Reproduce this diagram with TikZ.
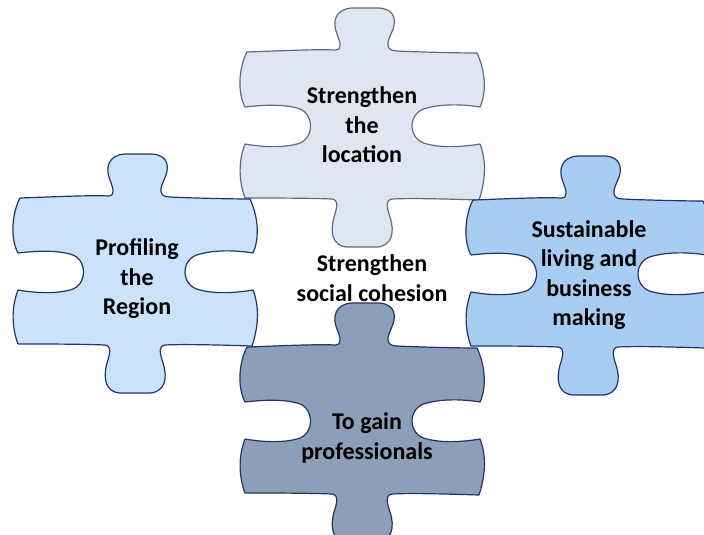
\documentclass[tikz,border=0pt]{standalone}
\usepackage{fontspec}
\setmainfont{Carlito}
\definecolor{topfill}{HTML}{DFE6F1}
\definecolor{leftfill}{HTML}{CBE3FA}
\definecolor{rightfill}{HTML}{A8CDF2}
\definecolor{botfill}{HTML}{8C9FB9}
\definecolor{greyedge}{HTML}{5F6D7E}
\definecolor{navyedge}{HTML}{25336A}
\tikzset{
  piece/.pic={
    \path[pic actions]
      (0,0) .. controls (30,-1) and (70,-3) .. (88,-2)
      .. controls (96,-2) and (93,-10) .. (90,-18)
      .. controls (85,-30) and (88,-43) .. (105,-44)
      -- (132,-44)
      .. controls (149,-43) and (150,-30) .. (144,-18)
      .. controls (140,-10) and (138,-1) .. (150,-1)
      .. controls (170,0) and (210,1) .. (230,1)
      .. controls (238,18) and (240,40) .. (233,55)
      .. controls (215,52) and (195,52) .. (180,56)
      .. controls (160,60) and (160,88) .. (180,92)
      .. controls (195,96) and (215,95) .. (233,92)
      .. controls (240,110) and (238,130) .. (232,148)
      .. controls (200,147) and (165,146) .. (145,147)
      .. controls (138,148) and (140,156) .. (143,165)
      .. controls (148,180) and (145,194) .. (130,195)
      -- (100,195)
      .. controls (85,194) and (83,180) .. (87,165)
      .. controls (90,156) and (92,148) .. (85,147)
      .. controls (60,146) and (25,146) .. (-2,146)
      .. controls (-8,130) and (-9,110) .. (-2,92)
      .. controls (15,95) and (35,96) .. (50,92)
      .. controls (68,88) and (68,60) .. (50,56)
      .. controls (35,52) and (15,53) .. (-2,55)
      .. controls (-10,40) and (-8,15) .. (0,0) -- cycle;
  },
  lbl/.style={font=\fontsize{24}{29.5}\selectfont\bfseries, align=center, text=black, inner sep=0pt},
  pieceedge/.style={line width=1.2pt, line join=round}
}
\begin{document}
\begin{tikzpicture}[x=1pt,y=-1pt]
\useasboundingbox (0,0) rectangle (704,535);
\clip (0,0) rectangle (704,535);
\fill[white] (0,0) rectangle (704,535);
\pic[fill=topfill, draw=greyedge, pieceedge] at (247,52) {piece};
\pic[fill=leftfill, draw=navyedge, pieceedge] at (20,198) {piece};
\pic[fill=rightfill, draw=navyedge, pieceedge] at (473,200) {piece};
\pic[fill=botfill, draw=navyedge, pieceedge] at (247,347) {piece};
\node[lbl] (tl) at (362,125) {Strengthen\\the\\location};
\node[lbl] (ll) at (137,279) {Profiling\\the\\Region};
\node[lbl] (cl) at (372,278) {Strengthen\\social cohesion};
\node[lbl] (rl) at (589,275) {Sustainable\\living and\\business\\making};
\node[lbl] (bl) at (367,438) {To gain\\professionals};
\end{tikzpicture}
\end{document}
